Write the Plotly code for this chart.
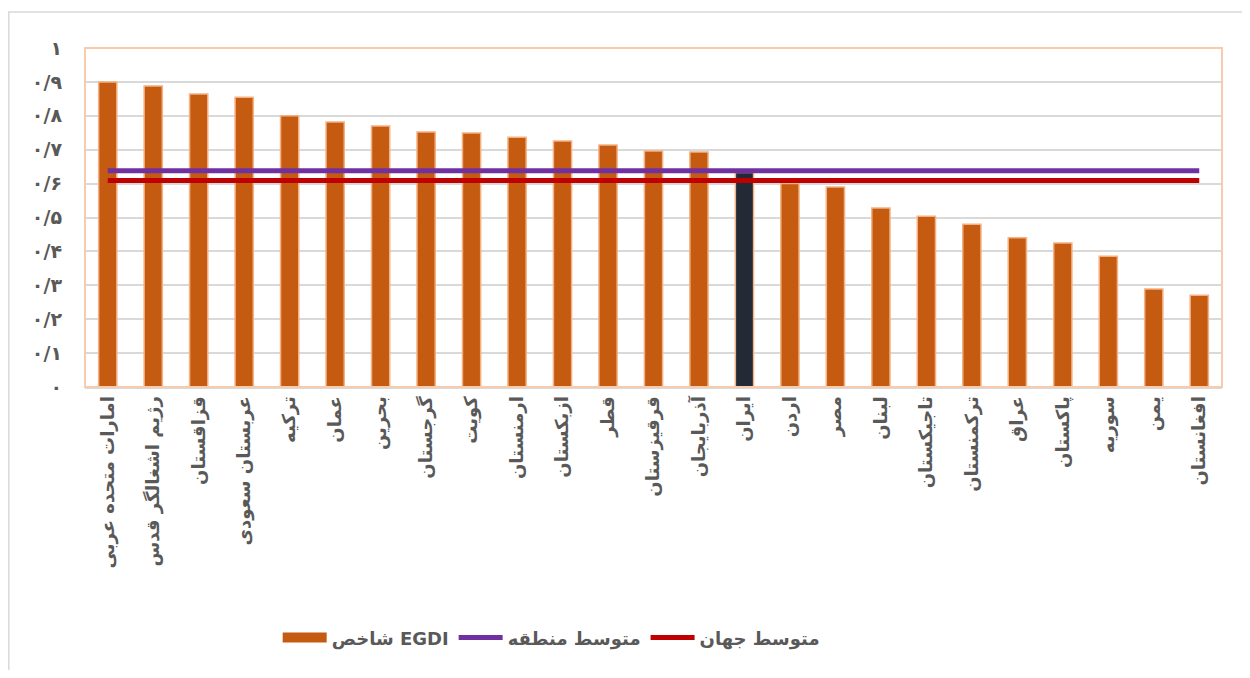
import plotly.graph_objects as go

# Persian labels and values
countries = [
    "امارات متحده عربی", "رژیم اشغالگر قدس", "قزاقستان", "عربستان سعودی",
    "ترکیه", "عمان", "بحرین", "گرجستان", "کویت", "ارمنستان", "ازبکستان",
    "قطر", "قرقیزستان", "آذربایجان", "ایران", "اردن", "مصر", "لبنان",
    "تاجیکستان", "ترکمنستان", "عراق", "پاکستان", "سوریه", "یمن", "افغانستان",
]
egdi = [
    0.900, 0.888, 0.864, 0.855, 0.800, 0.782, 0.770, 0.752, 0.749, 0.737,
    0.726, 0.714, 0.696, 0.693, 0.633, 0.600, 0.590, 0.528, 0.504, 0.480,
    0.440, 0.425, 0.386, 0.289, 0.271,
]
region_avg = 0.638
world_avg = 0.609

y_ticks = [0, 0.1, 0.2, 0.3, 0.4, 0.5, 0.6, 0.7, 0.8, 0.9, 1.0]
y_tick_text = ["۰", "۰/۱", "۰/۲", "۰/۳", "۰/۴", "۰/۵", "۰/۶", "۰/۷", "۰/۸", "۰/۹", "۱"]

_ORANGE = "#c55a11"
_ORANGE_EDGE = "#f4b183"
_IRAN = "#222a35"
_PURPLE = "#7030a0"
_RED = "#c00000"
_TEXT = "#595959"
_GRID = "#d9d9d9"
_FONT = "DejaVu Sans, Noto Sans, sans-serif"

bar_colors = [_IRAN if c == "ایران" else _ORANGE for c in countries]

fig = go.Figure()
fig.add_trace(go.Bar(
    x=countries,
    y=egdi,
    name="شاخص EGDI",
    marker=dict(color=bar_colors, line=dict(color=_ORANGE_EDGE, width=1.5)),
    showlegend=False,
))
# legend-only swatch so the EGDI key is a wide block like the original
fig.add_trace(go.Scatter(
    x=[None], y=[None],
    mode="lines",
    name="شاخص EGDI",
    line=dict(color=_ORANGE, width=14),
))
fig.add_trace(go.Scatter(
    x=countries,
    y=[region_avg] * len(countries),
    mode="lines",
    name="متوسط منطقه",
    line=dict(color=_PURPLE, width=5),
))
fig.add_trace(go.Scatter(
    x=countries,
    y=[world_avg] * len(countries),
    mode="lines",
    name="متوسط جهان",
    line=dict(color=_RED, width=5),
))

# page body adds an 8px offset, so the figure is sized 16px smaller
fig.update_layout(
    width=1234,
    height=662,
    paper_bgcolor="white",
    plot_bgcolor="white",
    margin=dict(l=77, r=20, t=40, b=283),
    bargap=0.6,
    font=dict(family=_FONT, color=_TEXT, size=16),
    legend=dict(
        orientation="h",
        x=0.41, xanchor="center",
        y=-0.74, yanchor="middle",
        font=dict(family=_FONT, size=18, color=_TEXT, weight="bold"),
        itemwidth=44,
        traceorder="normal",
    ),
    xaxis=dict(
        tickangle=-90,
        tickfont=dict(family=_FONT, size=18, color=_TEXT, weight="bold"),
        showline=True,
        linecolor=_GRID,
        linewidth=2,
        showgrid=False,
        ticks="",
    ),
    yaxis=dict(
        range=[0, 1],
        tickvals=y_ticks,
        ticktext=y_tick_text,
        tickfont=dict(family=_FONT, size=19, color=_TEXT, weight="bold"),
        gridcolor=_GRID,
        gridwidth=1.5,
        zeroline=False,
        ticklabelstandoff=22,
    ),
    shapes=[
        dict(type="rect", xref="paper", yref="paper", x0=0, x1=1, y0=0, y1=1,
             line=dict(color="#f8cbad", width=2), layer="above"),
        dict(type="rect", xref="paper", yref="paper",
             x0=-0.067, x1=1.03, y0=-0.85, y1=1.106,
             line=dict(color="#d9d9d9", width=1.5)),
    ],
)

fig.write_html("out.html")
